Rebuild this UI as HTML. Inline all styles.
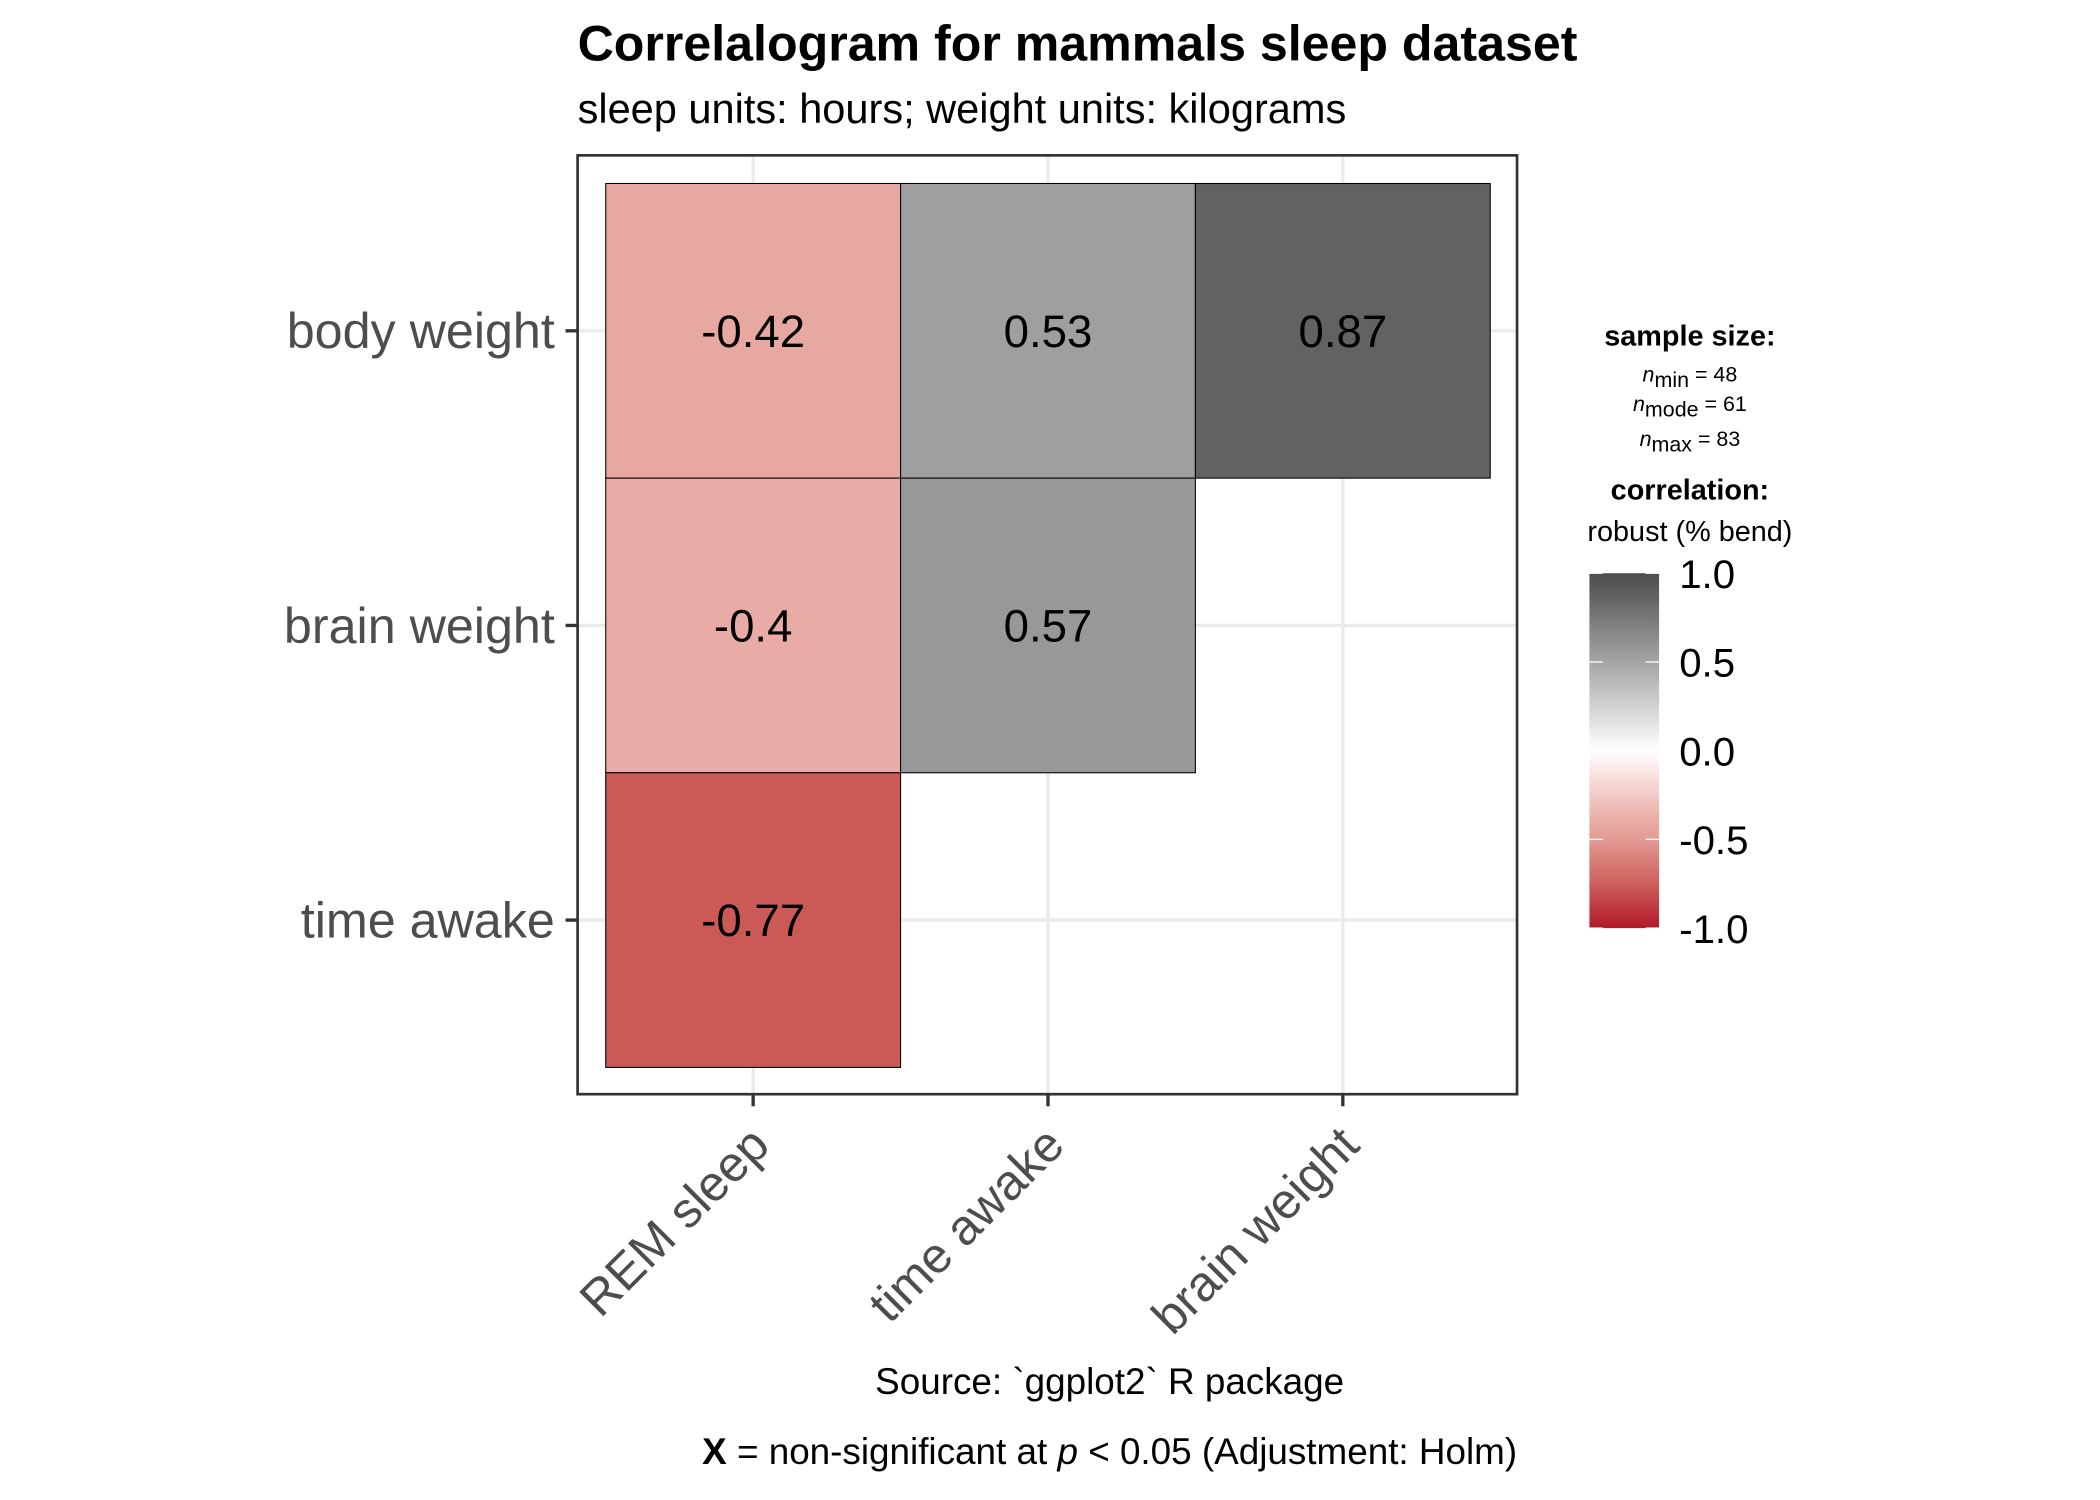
<!DOCTYPE html>
<html><head><meta charset="utf-8"><style>
html,body{margin:0;padding:0;background:#fff;}
svg{display:block;font-family:"Liberation Sans",sans-serif;}
</style></head><body>
<svg id="chart" width="2100" height="1500" viewBox="0 0 1567 1120" preserveAspectRatio="none" xmlns="http://www.w3.org/2000/svg">
<defs>
<linearGradient id="cbar" x1="0" y1="1" x2="0" y2="0">
<stop offset="0" stop-color="#b2182b"/>
<stop offset="0.115" stop-color="#cb5a57"/>
<stop offset="0.25" stop-color="#e39a94"/>
<stop offset="0.3" stop-color="#e9aba5"/>
<stop offset="0.5" stop-color="#ffffff"/>
<stop offset="0.765" stop-color="#9f9f9f"/>
<stop offset="0.935" stop-color="#626262"/>
<stop offset="1" stop-color="#4d4d4d"/>
</linearGradient>
</defs>
<text x="431" y="45" font-size="37.4" font-weight="bold">Correlalogram for mammals sleep dataset</text>
<text x="431" y="92" font-size="31">sleep units: hours; weight units: kilograms</text>
<g id="panel"></g>
<g>
<text x="1261" y="258" font-size="21.5" font-weight="bold" text-anchor="middle">sample size:</text>
<text x="1261" y="285" font-size="16" text-anchor="middle"><tspan font-style="italic">n</tspan><tspan dy="4">min</tspan><tspan dy="-4"> = 48</tspan></text>
<text x="1261" y="307" font-size="16" text-anchor="middle"><tspan font-style="italic">n</tspan><tspan dy="4">mode</tspan><tspan dy="-4"> = 61</tspan></text>
<text x="1261" y="333" font-size="16" text-anchor="middle"><tspan font-style="italic">n</tspan><tspan dy="4">max</tspan><tspan dy="-4"> = 83</tspan></text>
<text x="1261" y="373" font-size="21.5" font-weight="bold" text-anchor="middle">correlation:</text>
<text x="1261" y="404" font-size="21.5" text-anchor="middle">robust (% bend)</text>
<rect x="1186" y="428" width="52" height="265" fill="url(#cbar)"/>
<g id="cbticks"></g>
</g>
<text x="828" y="1041" font-size="27.5" text-anchor="middle">Source: `ggplot2` R package</text>
<text x="828" y="1093" font-size="27.5" text-anchor="middle"><tspan font-weight="bold">X</tspan> = non-significant at <tspan font-style="italic">p</tspan> &lt; 0.05 (Adjustment: Holm)</text>
</svg>
<script>
const xCategories = ["REM sleep", "time awake", "brain weight"];
const yCategories = ["body weight", "brain weight", "time awake"];
const cellX = [0, 1, 2, 0, 1, 0];
const cellY = [0, 0, 0, 1, 1, 2];
const cellValues = [-0.42, 0.53, 0.87, -0.4, 0.57, -0.77];
const legendTicks = [1.0, 0.5, 0.0, -0.5, -1.0];

const NS = "http://www.w3.org/2000/svg";
const panel = document.getElementById('panel');
const P = {l:431, r:1132, t:116, b:817};
const cell = 220, x0 = 452, y0 = 137;
const xPos = i => x0 + cell * i + cell / 2;
const yPos = j => y0 + cell * j + cell / 2;
const stops = [[-1,[178,24,43]],[-0.77,[203,90,87]],[-0.5,[227,154,148]],[-0.4,[233,171,165]],[0,[255,255,255]],[0.53,[159,159,159]],[0.87,[98,98,98]],[1,[77,77,77]]];
function color(v){
  for(let k=0;k<stops.length-1;k++){
    const [a,ca]=stops[k],[b,cb]=stops[k+1];
    if(v>=a&&v<=b){const t=(v-a)/(b-a);return 'rgb('+ca.map((c,i)=>Math.round(c+(cb[i]-c)*t)).join(',')+')';}
  }
  return '#fff';
}
function mk(tag, attrs, parent){
  const e=document.createElementNS(NS,tag);
  for(const k in attrs) e.setAttribute(k, attrs[k]);
  (parent||panel).appendChild(e); return e;
}
mk('rect',{x:P.l,y:P.t,width:P.r-P.l,height:P.b-P.t,fill:'#fff'});
xCategories.forEach((c,i)=>{
  const g=mk('line',{x1:xPos(i),x2:xPos(i),y1:P.t,y2:P.b,stroke:'#ebebeb','stroke-width':2.5});
  
  
});
yCategories.forEach((c,j)=>{
  const g=mk('line',{x1:P.l,x2:P.r,y1:yPos(j),y2:yPos(j),stroke:'#ebebeb','stroke-width':2.5});
  
  
});
cellValues.forEach((v,k)=>{
  const r=mk('rect',{x:xPos(cellX[k])-cell/2,y:yPos(cellY[k])-cell/2,width:cell,height:cell,fill:color(v),stroke:'#000','stroke-width':0.8});
  
  
  const t=mk('text',{x:xPos(cellX[k]),y:yPos(cellY[k])+12,'font-size':34,'text-anchor':'middle',fill:'#000'});
  t.textContent=String(v);
  
  
});
const border=mk('rect',{x:P.l,y:P.t,width:P.r-P.l,height:P.b-P.t,fill:'none',stroke:'#333','stroke-width':2});


xCategories.forEach((c,i)=>{
  const tk=mk('line',{x1:xPos(i),x2:xPos(i),y1:P.b,y2:P.b+9,stroke:'#333','stroke-width':2.5});
  
  
  const t=mk('text',{x:xPos(i)+14,y:P.b+40,'font-size':37,fill:'#4d4d4d','text-anchor':'end',transform:'rotate(-45 '+(xPos(i)+14)+' '+(P.b+40)+')'});
  t.textContent=c;
  
  
});
yCategories.forEach((c,j)=>{
  const tk=mk('line',{x1:P.l-9,x2:P.l,y1:yPos(j),y2:yPos(j),stroke:'#333','stroke-width':2.5});
  
  
  const t=mk('text',{x:P.l-17,y:yPos(j)+13,'font-size':37.5,fill:'#4d4d4d','text-anchor':'end'});
  t.textContent=c;
  
  
});
const cb=document.getElementById('cbticks');
const cbY = v => 428 + (1 - v) / 2 * 265;
legendTicks.forEach(v=>{
  const y=cbY(v);
  mk('line',{x1:1186,x2:1196,y1:y,y2:y,stroke:'#fff','stroke-width':1},cb);
  mk('line',{x1:1228,x2:1238,y1:y,y2:y,stroke:'#fff','stroke-width':1},cb);
  const t=mk('text',{x:1253,y:y+11,'font-size':30,fill:'#000'},cb);
  t.textContent=v.toFixed(1);
  
  
});
</script>
</body></html>
